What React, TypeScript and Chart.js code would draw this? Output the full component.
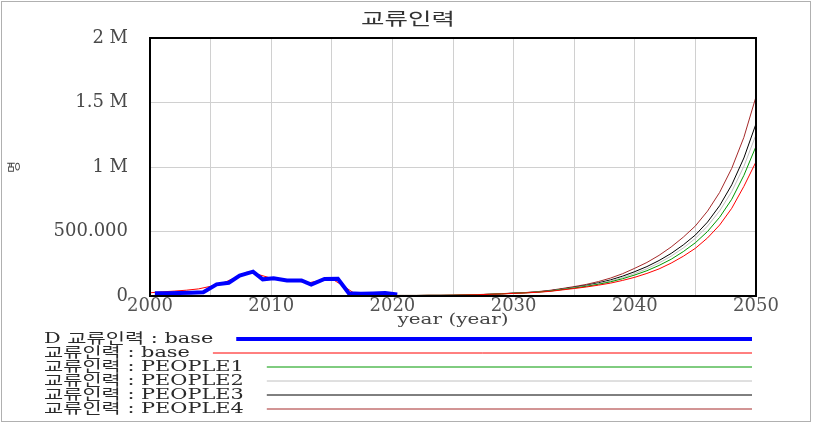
import React, { useEffect, useRef } from "react";
import { Chart, registerables } from "chart.js";

Chart.register(...registerables);

const TITLE = "교류인력";
const Y_TITLE = "명";
const X_TITLE = "year (year)";
const X_MIN = 2000;
const X_MAX = 2050;
const Y_MAX = 2000000;

// Historical data series "D 교류인력 : base" (year, value in thousands)
const DATA_YEARS = [2000.4, 2001.4, 2002.4, 2003.4, 2004.4, 2005.5, 2006.5, 2007.4, 2008.5, 2009.3, 2010.2, 2011.3, 2012.5, 2013.3, 2014.4, 2015.5, 2016.4, 2017.4, 2018.4, 2019.4, 2020.4];
const DATA_K = [21, 22, 24, 26, 29, 90, 103, 158, 189, 129, 137, 121, 121, 88, 132, 134, 21, 18, 20, 24, 12];

// Simulation base run 2000..2050 (thousands)
const BASE_YEARS = Array.from({ length: 51 }, (_, i) => 2000 + i);
const BASE_K = [
  25, 32, 38, 45, 55, 75, 100, 140, 185, 165,
  138, 125, 120, 100, 120, 133, 75, 12, 6, 5,
  4, 4, 4, 5, 5, 6, 8, 10, 13, 16,
  20, 24, 29, 36, 47, 58, 70, 84, 100, 121,
  145, 175, 210, 255, 308, 370, 450, 550, 680, 850,
  1040,
];

// Scenario runs 2020..2050 (thousands)
const SCEN_YEARS = Array.from({ length: 31 }, (_, i) => 2020 + i);
const PEOPLE1_K = [4, 4, 4, 5, 5, 6, 8, 10, 13, 17, 21, 25, 30, 38, 50, 62, 75, 91, 110, 134, 163, 196, 237, 285, 344, 413, 500, 610, 750, 935, 1160];
const PEOPLE2_K = [4, 4, 4, 5, 5, 6, 8, 10, 13, 17, 21, 25, 31, 39, 52, 65, 79, 96, 117, 143, 175, 211, 256, 309, 372, 447, 542, 660, 810, 1005, 1250];
const PEOPLE3_K = [4, 4, 4, 5, 5, 6, 8, 10, 13, 17, 22, 26, 32, 41, 54, 68, 83, 102, 125, 154, 189, 228, 275, 330, 396, 473, 573, 700, 862, 1070, 1335];
const PEOPLE4_K = [4, 4, 4, 5, 5, 6, 8, 11, 14, 18, 23, 27, 34, 44, 58, 73, 90, 112, 139, 173, 215, 260, 315, 380, 456, 543, 658, 803, 990, 1230, 1545];

const SERIES_LABELS = [
  "D 교류인력 : base",
  "교류인력 : base",
  "교류인력 : PEOPLE1",
  "교류인력 : PEOPLE2",
  "교류인력 : PEOPLE3",
  "교류인력 : PEOPLE4",
];
const SERIES_COLORS = ["#0000ff", "#ff0000", "#009900", "#c0c0c0", "#000000", "#a52a2a"];
const SERIES_WIDTHS = [4, 1, 1, 1, 1, 1];

const toPoints = (xs: number[], ks: number[]) => xs.map((x, i) => ({ x, y: ks[i] * 1000 }));

const fmtY = (v: number) => {
  if (v === 0) return "0";
  if (v >= 1000000) return String(v / 1000000) + " M";
  return "500.000";
};

function stretchText(ctx: CanvasRenderingContext2D, text: string, x: number, y: number, sx: number, align: CanvasTextAlign) {
  ctx.save();
  ctx.translate(x, y);
  ctx.scale(sx, 1);
  ctx.textAlign = align;
  ctx.fillText(text, 0, 0);
  ctx.restore();
}

const decor = {
  id: "decor",
  beforeDraw(chart: any) {
    const ctx = chart.ctx;
    ctx.save();
    ctx.fillStyle = "#ffffff";
    ctx.fillRect(0, 0, chart.width, chart.height);
    ctx.restore();
  },
  afterDatasetsDraw(chart: any) {
    const ctx = chart.ctx;
    const a = chart.chartArea;
    ctx.save();
    ctx.strokeStyle = "#000000";
    ctx.lineWidth = 2;
    ctx.strokeRect(a.left, a.top, a.right - a.left, a.bottom - a.top);
    ctx.restore();
  },
  afterDraw(chart: any) {
    const ctx: CanvasRenderingContext2D = chart.ctx;
    const a = chart.chartArea;
    ctx.save();
    ctx.textBaseline = "middle";
    // title
    ctx.fillStyle = "#333333";
    ctx.font = "17px 'Noto Sans CJK KR'";
    stretchText(ctx, TITLE, 408, 19, 1.5, "center");
    // x title
    ctx.fillStyle = "#444444";
    ctx.font = "15px 'DejaVu Serif'";
    stretchText(ctx, X_TITLE, (a.left + a.right) / 2, 320, 1.33, "center");
    // y title
    ctx.save();
    ctx.translate(13, (a.top + a.bottom) / 2);
    ctx.rotate(-Math.PI / 2);
    ctx.font = "13px 'Noto Sans CJK KR'";
    ctx.textAlign = "center";
    ctx.fillText(Y_TITLE, 0, 0);
    ctx.restore();
    // legend
    const sx = 1.49;
    ctx.font = "14px 'DejaVu Serif', 'Noto Sans CJK KR'";
    SERIES_LABELS.forEach((label, i) => {
      const y = 339 + i * 14;
      ctx.fillStyle = "#2a2a2a";
      stretchText(ctx, label, 44, y, sx, "left");
      const w = ctx.measureText(label).width * sx;
      ctx.beginPath();
      ctx.strokeStyle = SERIES_COLORS[i];
      ctx.lineWidth = SERIES_WIDTHS[i];
      ctx.moveTo(44 + w + 23, y);
      ctx.lineTo(752, y);
      ctx.stroke();
    });
    // outer frame
    ctx.strokeStyle = "#b0b0b0";
    ctx.lineWidth = 1;
    ctx.strokeRect(1.5, 1.5, 809, 420);
    ctx.restore();
  },
};

export default function App() {
  const ref = useRef<HTMLCanvasElement | null>(null);
  useEffect(() => {
    document.body.style.margin = "0";
    const canvas = ref.current;
    if (!canvas) return;
    const datasets = [
      toPoints(DATA_YEARS, DATA_K),
      toPoints(BASE_YEARS, BASE_K),
      toPoints(SCEN_YEARS, PEOPLE1_K),
      toPoints(SCEN_YEARS, PEOPLE2_K),
      toPoints(SCEN_YEARS, PEOPLE3_K),
      toPoints(SCEN_YEARS, PEOPLE4_K),
    ].map((data, i) => ({
      label: SERIES_LABELS[i],
      data,
      borderColor: SERIES_COLORS[i],
      backgroundColor: SERIES_COLORS[i],
      borderWidth: SERIES_WIDTHS[i],
      pointRadius: 0,
      tension: 0,
      fill: false,
    }));
    const chart = new Chart(canvas, {
      type: "line",
      data: { datasets },
      options: {
        responsive: false,
        animation: false,
        devicePixelRatio: 1,
        layout: { padding: { top: 38, right: 60, bottom: 95, left: 0 } },
        plugins: { legend: { display: false }, tooltip: { enabled: false }, title: { display: false } },
        scales: {
          x: {
            type: "linear",
            min: X_MIN,
            max: X_MAX,
            grid: { color: "#d0d0d0", drawTicks: false },
            border: { display: false },
            ticks: {
              stepSize: 5,
              autoSkip: false,
              maxRotation: 0,
              padding: 0,
              color: "#555555",
              font: { family: "'DejaVu Serif'", size: 18 },
              callback: (v: any) => (Number(v) % 10 === 0 ? String(v) : ""),
            },
            afterFit: (s: any) => {
              s.height = 34;
            },
          },
          y: {
            min: 0,
            max: Y_MAX,
            grid: { color: "#d0d0d0", drawTicks: false },
            border: { display: false },
            ticks: {
              stepSize: 500000,
              padding: 22,
              color: "#4a4a4a",
              font: { family: "'DejaVu Serif'", size: 18 },
              callback: (v: any) => fmtY(Number(v)),
            },
            afterFit: (s: any) => {
              s.width = 150;
            },
          },
        },
      },
      plugins: [decor],
    });
    return () => chart.destroy();
  }, []);
  return (
    <div style={{ width: 816, height: 425 }}>
      <canvas ref={ref} width={816} height={425} style={{ width: 816, height: 425, display: "block" }} />
    </div>
  );
}
